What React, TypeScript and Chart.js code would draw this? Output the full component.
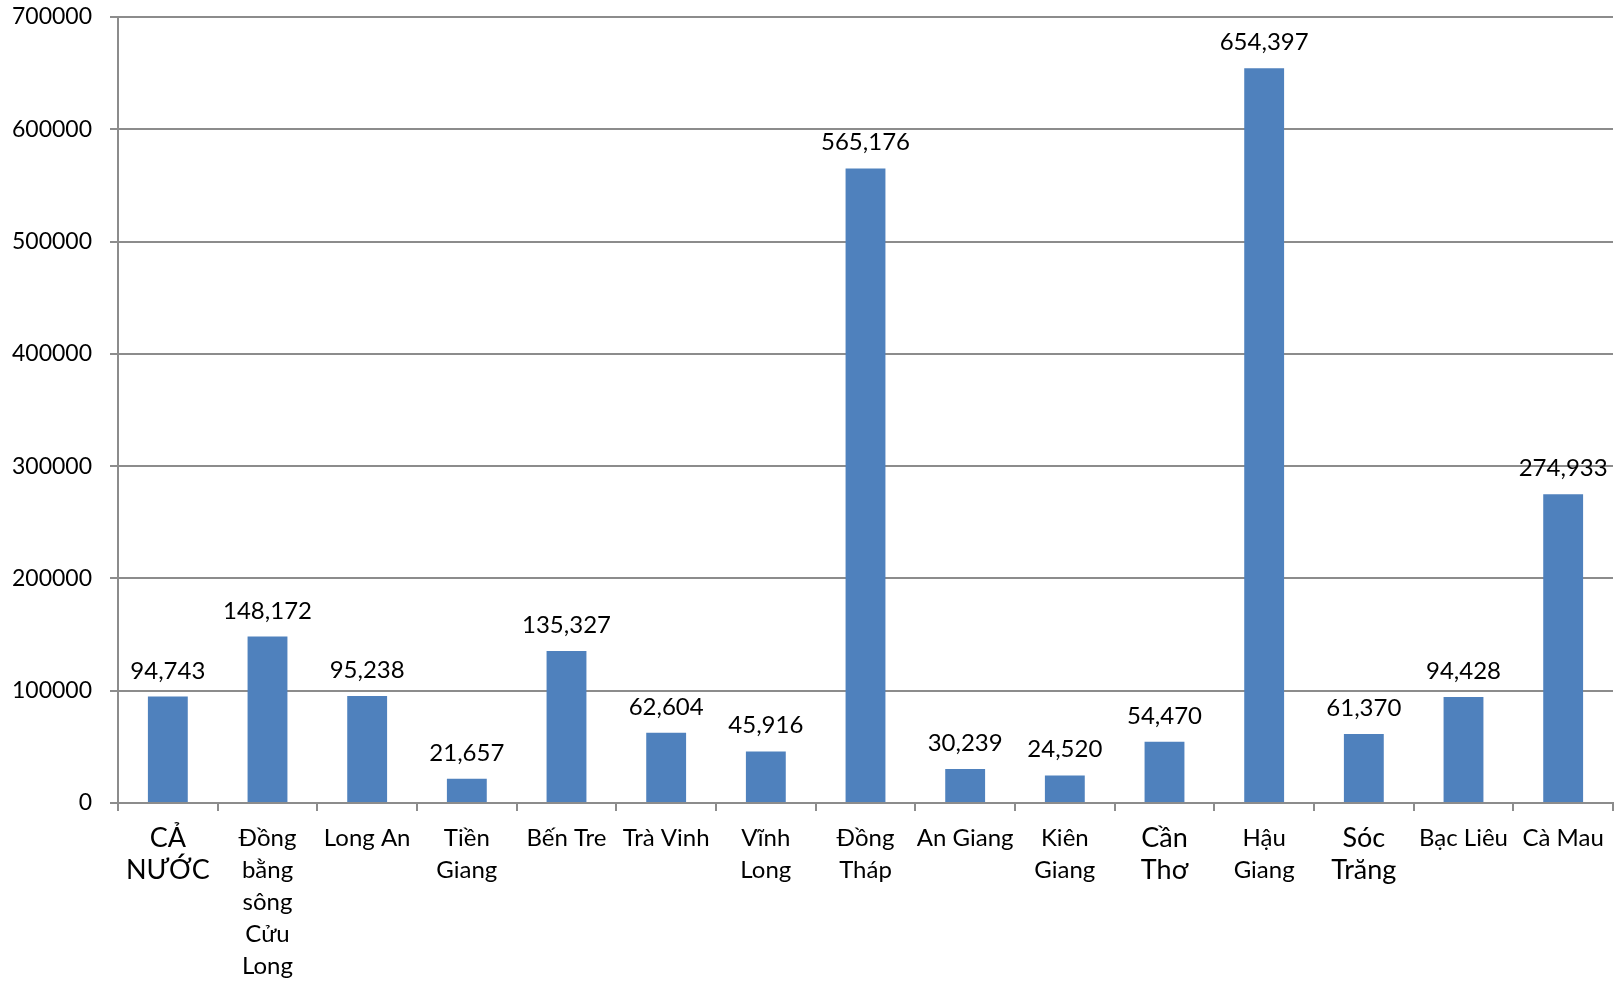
import React, { useEffect, useRef } from "react";
import { Chart, registerables } from "chart.js";

Chart.register(...registerables);

const categories: (string | string[])[] = [
  ["CẢ", "NƯỚC"],
  ["Đồng", "bằng", "sông", "Cửu", "Long"],
  "Long An",
  ["Tiền", "Giang"],
  "Bến Tre",
  "Trà Vinh",
  ["Vĩnh", "Long"],
  ["Đồng", "Tháp"],
  "An Giang",
  ["Kiên", "Giang"],
  ["Cần", "Thơ"],
  ["Hậu", "Giang"],
  ["Sóc", "Trăng"],
  "Bạc Liêu",
  "Cà Mau",
];

const values: number[] = [
  94743, 148172, 95238, 21657, 135327, 62604, 45916, 565176, 30239, 24520,
  54470, 654397, 61370, 94428, 274933,
];

const bigLabelIndexes: number[] = [0, 10, 12];

const yTicks: number[] = [0, 100000, 200000, 300000, 400000, 500000, 600000, 700000];

const FONT = "Lato, 'Open Sans', sans-serif";

const dataLabelPlugin = {
  id: "dataLabels",
  afterDatasetsDraw(chart: any) {
    const ctx = chart.ctx;
    const meta = chart.getDatasetMeta(0);
    ctx.save();
    ctx.font = `24px ${FONT}`;
    ctx.fillStyle = "#000";
    ctx.textAlign = "center";
    ctx.textBaseline = "alphabetic";
    meta.data.forEach((bar: any, i: number) => {
      const v = chart.data.datasets[0].data[i] as number;
      ctx.fillText(v.toLocaleString("en-US"), bar.x, bar.y - 18);
    });
    ctx.restore();
  },
};

export default function App() {
  const ref = useRef<HTMLCanvasElement>(null);
  useEffect(() => {
    if (!ref.current) return;
    const chart = new Chart(ref.current, {
      type: "bar",
      data: {
        labels: categories,
        datasets: [
          {
            data: values,
            backgroundColor: "#4f81bd",
            barPercentage: 0.4,
            categoryPercentage: 1,
          },
        ],
      },
      options: {
        animation: false,
        responsive: false,
        maintainAspectRatio: false,
        layout: { padding: { top: 17, left: 12, right: 4, bottom: 0 } },
        plugins: { legend: { display: false }, tooltip: { enabled: false } },
        scales: {
          x: {
            afterFit: (s: any) => {
              s.height = 179;
              s.paddingLeft = 0;
              s.paddingRight = 0;
            },
            grid: {
              display: true,
              drawOnChartArea: false,
              drawTicks: true,
              tickLength: 8,
              color: "#8c8c8c",
              lineWidth: 2,
            },
            border: { display: true, color: "#8c8c8c", width: 2 },
            ticks: {
              color: "#000",
              padding: 11,
              maxRotation: 0,
              minRotation: 0,
              autoSkip: false,
              font: (c: any) =>
                bigLabelIndexes.includes(c.index)
                  ? { family: FONT, size: 27, lineHeight: "32px" }
                  : { family: FONT, size: 24, lineHeight: "32px" },
            },
          },
          y: {
            min: 0,
            max: 700000,
            afterFit: (s: any) => {
              s.width = 106;
              s.paddingTop = 0;
              s.paddingBottom = 0;
            },
            afterBuildTicks: (axis: any) => {
              axis.ticks = yTicks.map((v) => ({ value: v }));
            },
            grid: {
              color: "#8c8c8c",
              lineWidth: 2,
              tickLength: 8,
            },
            border: { display: true, color: "#8c8c8c", width: 2 },
            ticks: {
              color: "#000",
              padding: 18,
              font: { family: FONT, size: 23 },
              callback: (v: any) => String(v),
            },
          },
        },
      },
      plugins: [dataLabelPlugin],
    });
    return () => chart.destroy();
  }, []);
  return (
    <div style={{ position: "fixed", left: 0, top: 0, width: 1617, height: 982, background: "#fff" }}>
      <canvas ref={ref} width={1617} height={982} style={{ width: 1617, height: 982 }} />
    </div>
  );
}
